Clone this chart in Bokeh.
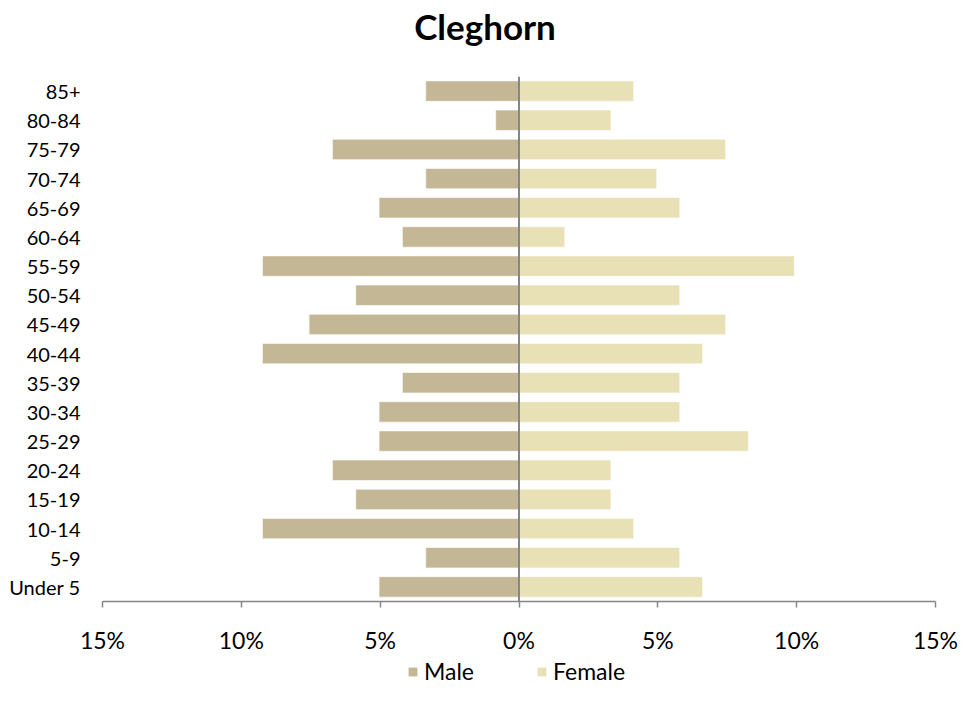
from bokeh.plotting import figure
from bokeh.layouts import column
from bokeh.models import (FactorRange, Range1d, FixedTicker, Span, Legend, LegendItem, Div, ColumnDataSource)
from bokeh.embed import file_html
from bokeh.resources import INLINE

title_text = "Cleghorn"
age_groups = ["Under 5", "5-9", "10-14", "15-19", "20-24", "25-29", "30-34", "35-39",
              "40-44", "45-49", "50-54", "55-59", "60-64", "65-69", "70-74", "75-79",
              "80-84", "85+"]
male_pct = [5.04, 3.36, 9.24, 5.88, 6.72, 5.04, 5.04, 4.20,
            9.24, 7.56, 5.88, 9.24, 4.20, 5.04, 3.36, 6.72,
            0.84, 3.36]
female_pct = [6.61, 5.79, 4.13, 3.31, 3.31, 8.26, 5.79, 5.79,
              6.61, 7.44, 5.79, 9.92, 1.65, 5.79, 4.96, 7.44,
              3.31, 4.13]
x_ticks = [-15, -10, -5, 0, 5, 10, 15]
x_tick_labels = ["15%", "10%", "5%", "0%", "5%", "10%", "15%"]
series_names = ["Male", "Female"]

FONT = "Lato"
MALE_COLOR = "#C4B795"
FEMALE_COLOR = "#E8E1B6"
AXIS_COLOR = "#868686"

src = ColumnDataSource(dict(
    age=age_groups,
    male_left=[-v for v in male_pct],
    female=female_pct,
    zero=[0] * len(age_groups),
))

title_div = Div(text=title_text, width=970, height=52,
                styles={"font-family": FONT, "font-size": "35px", "font-weight": "bold",
                        "text-align": "center", "line-height": "52px", "color": "black",
                        "margin": "0", "padding": "0"})

p = figure(frame_width=833, frame_height=525, output_backend="svg", toolbar_location=None,
           y_range=FactorRange(factors=age_groups, range_padding=0),
           x_range=Range1d(-15, 15),
           min_border_left=102, min_border_right=35, min_border_top=24, min_border_bottom=0)

r_m = p.hbar(y="age", left="male_left", right="zero", height=0.7, source=src,
             fill_color=MALE_COLOR, line_color="white", line_alpha=0.6, line_width=1)
r_f = p.hbar(y="age", left="zero", right="female", height=0.7, source=src,
             fill_color=FEMALE_COLOR, line_color="white", line_alpha=0.6, line_width=1)

p.add_layout(Span(location=0, dimension="height", line_color=AXIS_COLOR, line_width=2))

p.outline_line_color = None
p.xgrid.grid_line_color = None
p.ygrid.grid_line_color = None

xa = p.xaxis[0]
xa.ticker = FixedTicker(ticks=x_ticks)
xa.major_label_overrides = {t: l for t, l in zip(x_ticks, x_tick_labels)}
xa.minor_tick_line_color = None
xa.major_tick_in = 0
xa.major_tick_out = 6
xa.axis_line_color = AXIS_COLOR
xa.axis_line_width = 1.5
xa.major_tick_line_color = AXIS_COLOR
xa.major_tick_line_width = 1.5
xa.major_label_text_font = FONT
xa.major_label_text_font_size = "23px"
xa.major_label_text_color = "black"
xa.major_label_standoff = 18

ya = p.yaxis[0]
ya.axis_line_color = None
ya.major_tick_line_color = None
ya.minor_tick_line_color = None
ya.major_tick_out = 0
ya.major_tick_in = 0
ya.major_label_standoff = 22
ya.major_label_text_font = FONT
ya.major_label_text_font_size = "20px"
ya.major_label_text_color = "black"

# legend strip below the chart (frame aligned with the chart's frame)
lf = figure(width=970, height=48, output_backend="svg", toolbar_location=None,
            x_range=Range1d(0, 1), y_range=Range1d(0, 1),
            min_border_left=0, min_border_right=0, min_border_top=0, min_border_bottom=0)
lf.axis.visible = False
lf.grid.visible = False
lf.outline_line_color = None
lm = lf.hbar(y=[5], left=[5], right=[6], height=1, fill_color=MALE_COLOR, line_color=None)
lfe = lf.hbar(y=[5], left=[5], right=[6], height=1, fill_color=FEMALE_COLOR, line_color=None)
legend = Legend(items=[LegendItem(label=series_names[0], renderers=[lm]),
                       LegendItem(label=series_names[1], renderers=[lfe])],
                orientation="horizontal", location=(305, 19),
                border_line_color=None, background_fill_alpha=0,
                glyph_width=11, glyph_height=11, label_standoff=6, spacing=62,
                label_text_font=FONT, label_text_font_size="23px", label_text_color="black",
                padding=0, margin=0)
lf.add_layout(legend, "center")

open("out.html", "w").write(file_html(column(title_div, p, lf, spacing=0), INLINE))
